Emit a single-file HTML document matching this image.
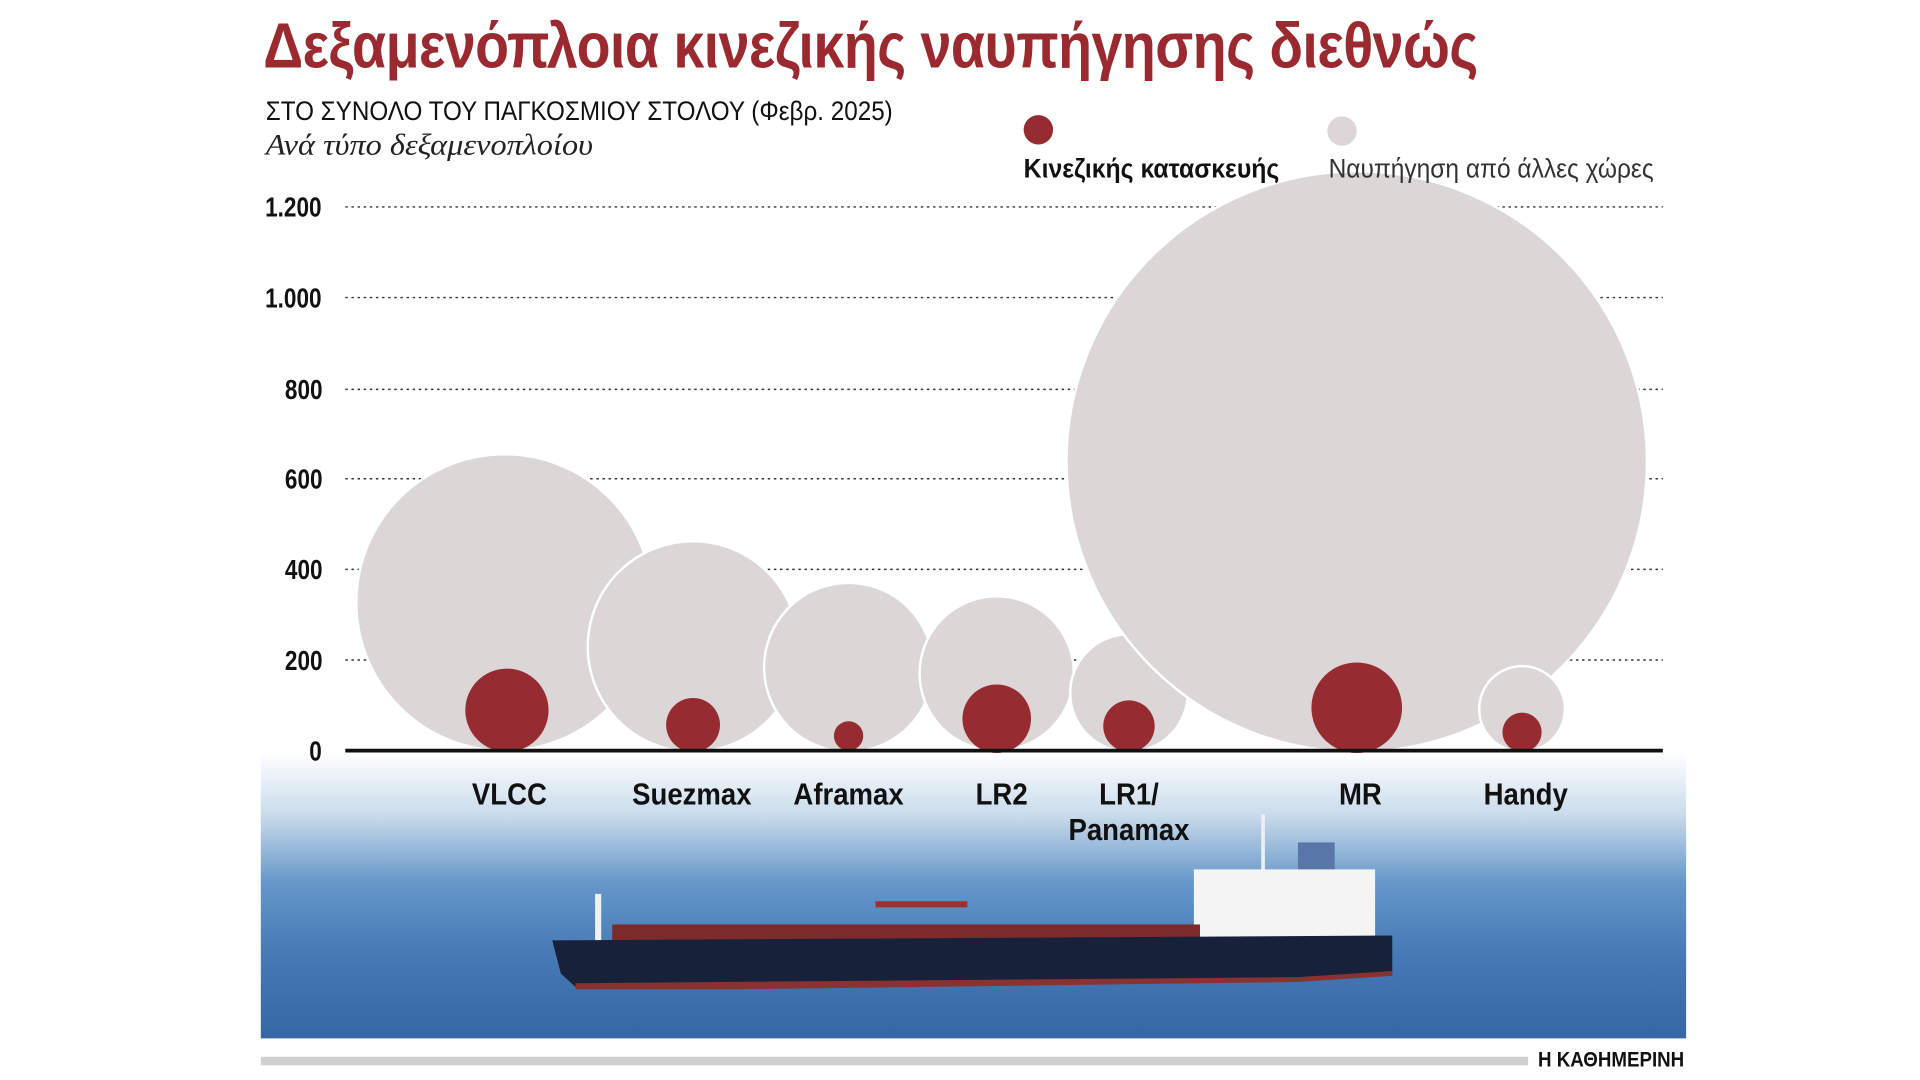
<!DOCTYPE html>
<html><head><meta charset="utf-8">
<style>
html,body{margin:0;padding:0;background:#fff;width:1920px;height:1080px;overflow:hidden}
#w{position:absolute;left:0;top:0;width:1568px;height:882px;transform:scale(1.22449);transform-origin:0 0;font-family:"Liberation Sans Narrow","Liberation Sans",sans-serif}
.t{position:absolute;white-space:nowrap}
.c{position:absolute;white-space:nowrap;transform:translateX(-50%) scaleX(0.9);text-align:center}
.r{position:absolute;white-space:nowrap;right:0;transform:scaleX(0.8);transform-origin:100% 50%}
</style></head><body>
<div id="w">
<svg width="1568" height="882" style="position:absolute;left:0;top:0">
<defs>
<linearGradient id="sea" x1="0" y1="0" x2="0" y2="1">
<stop offset="0" stop-color="#ffffff"/>
<stop offset="0.45" stop-color="#ffffff"/>
<stop offset="0.57" stop-color="#c9dbeb"/>
<stop offset="0.7" stop-color="#6597c9"/>
<stop offset="0.84" stop-color="#4679b5"/>
<stop offset="1" stop-color="#3467a3"/>
</linearGradient>
</defs>
<rect x="213" y="424" width="1164" height="424" fill="url(#sea)"/>
<g stroke="#333" stroke-width="1.2" stroke-dasharray="2,3">
<line x1="282" y1="169" x2="1358" y2="169"/>
<line x1="282" y1="243" x2="1358" y2="243"/>
<line x1="282" y1="318" x2="1358" y2="318"/>
<line x1="282" y1="391" x2="1358" y2="391"/>
<line x1="282" y1="465" x2="1358" y2="465"/>
<line x1="282" y1="539" x2="1358" y2="539"/>
</g>
<g fill="#dcd6d6" stroke="#fff" stroke-width="2">
<circle cx="412" cy="492" r="121"/>
<circle cx="566" cy="528" r="86"/>
<circle cx="693" cy="545" r="69"/>
<circle cx="814" cy="550" r="63"/>
<circle cx="922" cy="566" r="48"/>
<circle cx="1108" cy="377" r="237"/>
<circle cx="1243" cy="579" r="35"/>
</g>
<g fill="#962b32">
<circle cx="414" cy="580" r="34"/>
<circle cx="566" cy="592" r="22"/>
<circle cx="693" cy="601" r="12"/>
<circle cx="814" cy="587" r="28"/>
<circle cx="922" cy="593" r="21"/>
<circle cx="1108" cy="578" r="37"/>
<circle cx="1243" cy="598" r="16"/>
<circle cx="848" cy="106" r="12"/>
</g>
<circle cx="1096" cy="107" r="12" fill="#dcd6d6"/>
<line x1="282" y1="613" x2="1358" y2="613" stroke="#111" stroke-width="3"/>
<g>
<rect x="1030" y="665" width="3" height="48" fill="#eee"/>
<rect x="1060" y="688" width="30" height="24" fill="#5877a8"/>
<rect x="975" y="710" width="148" height="58" fill="#f4f4f4"/>
<rect x="486" y="730" width="5" height="40" fill="#f0f0f0"/>
<rect x="715" y="736" width="75" height="5" fill="#a03030"/>
<rect x="500" y="755" width="480" height="15" fill="#7c2a2a"/>
<polygon points="451,768 1137,764 1137,795 1060,800 600,806 470,806 458,795" fill="#17223a"/>
<polygon points="470,803 1060,798 1137,793 1137,797 1060,802 600,808 470,808" fill="#8a3232"/>
</g>
<rect x="213" y="863" width="1035" height="7" fill="#cfcfcf"/>
</svg>
<div class="t" style="left:215px;top:8px;font-size:52px;font-weight:bold;color:#9b2a30;letter-spacing:-0.5px;transform:scaleX(0.872);transform-origin:0 0">Δεξαμενόπλοια κινεζικής ναυπήγησης διεθνώς</div>
<div class="t" style="left:217px;top:78px;font-size:22px;color:#111;transform:scaleX(0.9);transform-origin:0 0">ΣΤΟ ΣΥΝΟΛΟ ΤΟΥ ΠΑΓΚΟΣΜΙΟΥ ΣΤΟΛΟΥ (Φεβρ. 2025)</div>
<div class="t" style="left:217px;top:106px;font-size:24px;font-style:italic;font-family:'Liberation Serif',serif;color:#222;transform:scaleX(1.1);transform-origin:0 0">Ανά τύπο δεξαμενοπλοίου</div>
<div class="t" style="left:836px;top:125px;font-size:22px;font-weight:bold;color:#111;transform:scaleX(0.92);transform-origin:0 0">Κινεζικής κατασκευής</div>
<div class="t" style="left:1085px;top:125px;font-size:22px;color:#333;transform:scaleX(0.91);transform-origin:0 0">Ναυπήγηση από άλλες χώρες</div>
<div style="position:absolute;left:180px;top:0;width:83px;font-size:23px;font-weight:bold;color:#111;line-height:26px">
<div class="r" style="top:156px">1.200</div>
<div class="r" style="top:230px">1.000</div>
<div class="r" style="top:305px">800</div>
<div class="r" style="top:378px">600</div>
<div class="r" style="top:452px">400</div>
<div class="r" style="top:526px">200</div>
<div class="r" style="top:600px">0</div>
</div>
<div style="font-size:25px;font-weight:bold;color:#111;line-height:29px">
<div class="c" style="left:416px;top:635px">VLCC</div>
<div class="c" style="left:565px;top:635px">Suezmax</div>
<div class="c" style="left:693px;top:635px">Aframax</div>
<div class="c" style="left:818px;top:635px">LR2</div>
<div class="c" style="left:922px;top:635px">LR1/<br>Panamax</div>
<div class="c" style="left:1111px;top:635px">MR</div>
<div class="c" style="left:1246px;top:635px">Handy</div>
</div>
<div class="t" style="left:1256px;top:856px;font-size:17px;font-weight:bold;color:#111;transform:scaleX(0.9);transform-origin:0 0">Η ΚΑΘΗΜΕΡΙΝΗ</div>
</div>
</body></html>
